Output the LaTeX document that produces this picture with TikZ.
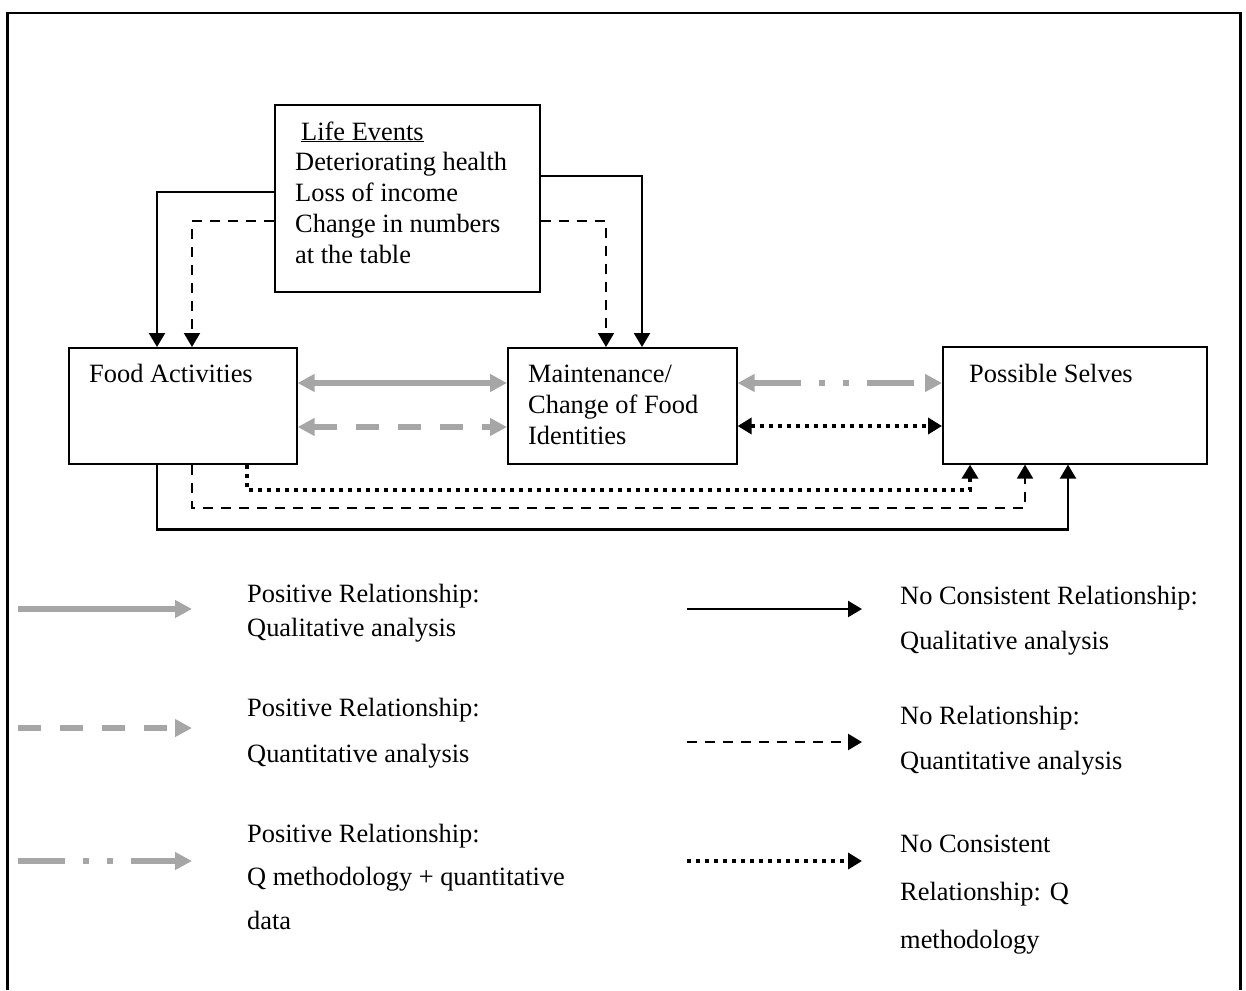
\documentclass[tikz,border=0pt]{standalone}
\usepackage{fontspec}
\setmainfont{Liberation Serif}
\usetikzlibrary{arrows.meta}
\definecolor{lightgrey}{HTML}{A6A6A6}
\begin{document}
\begin{tikzpicture}[x=1pt,y=-1pt,
  box/.style={draw, line width=1.6pt, inner sep=0pt, anchor=north west},
  txt/.style={inner sep=0pt, anchor=base west, font=\fontsize{26.4}{31}\selectfont},
  blk/.style={line width=2.4pt, -{Triangle[length=14pt,width=16pt]}},
  blkdash/.style={line width=2pt, dash pattern=on 10pt off 8pt, -{Triangle[length=14pt,width=16pt]}},
  blkdot/.style={line width=4pt, dash pattern=on 4pt off 5pt, -{Triangle[length=14pt,width=16pt]}},
  gry/.style={draw=lightgrey, line width=6pt, -{Triangle[length=17pt,width=17pt]}, lightgrey},
  grydash/.style={gry, dash pattern=on 23pt off 19pt},
  grydot/.style={gry, dash pattern=on 47pt off 18pt on 6pt off 18pt on 6pt off 18pt},
  both/.style={{Triangle[length=17pt,width=17pt]}-{Triangle[length=17pt,width=17pt]}},
  bothblk/.style={{Triangle[length=14pt,width=16pt]}-{Triangle[length=14pt,width=16pt]}}
]
\useasboundingbox (0,0) rectangle (1246,990);

% outer frame, open at the bottom
\draw[line width=2.5pt] (7.5,990) -- (7.5,13) -- (1240.5,13) -- (1240.5,990);

% boxes
\node[box, minimum width=265pt, minimum height=187pt] (life) at (274,104) {};
\node[box, minimum width=228pt, minimum height=116pt] (food) at (68,347) {};
\node[box, minimum width=229pt, minimum height=116pt] (maint) at (507,347) {};
\node[box, minimum width=264pt, minimum height=117pt] (ps) at (942,346) {};

% box texts
\node[txt] (le0) at (301,140) {\underline{Life Events}};
\node[txt] (le1) at (295,170) {Deteriorating health};
\node[txt] (le2) at (295,201) {Loss of income};
\node[txt] (le3) at (295,232) {Change in numbers};
\node[txt] (le4) at (295,263) {at the table};
\node[txt] (fa) at (89,382) {Food Activities};
\node[txt] (mc1) at (528,382) {Maintenance/};
\node[txt] (mc2) at (528,413) {Change of Food};
\node[txt] (mc3) at (528,444) {Identities};
\node[txt] (psl) at (969,382) {Possible Selves};

% life events to food activities and identities
\draw[blk] ([yshift=-88pt]life.north west) -| ([xshift=89pt]food.north west);
\draw[blkdash] ([yshift=-117pt]life.north west) -| ([xshift=124pt]food.north west);
\draw[blk] ([yshift=-72pt]life.north east) -| ([xshift=135pt]maint.north west);
\draw[blkdash] ([yshift=-117pt]life.north east) -| ([xshift=99pt]maint.north west);

% food activities <-> identities
\draw[gry, both] ([yshift=-36pt]food.north east) -- ([yshift=-36pt]maint.north west);
\draw[grydash, both] ([yshift=-80pt]food.north east) -- ([yshift=-80pt]maint.north west);

% identities <-> possible selves
\draw[grydot, both] ([yshift=-36pt]maint.north east) -- ([yshift=-37pt]ps.north west);
\draw[blkdot, bothblk] ([yshift=-79pt]maint.north east) -- ([yshift=-80pt]ps.north west);

% food activities to possible selves, underneath
\draw[blk] ([xshift=89pt]food.south west) -- ++(0,65) -| ([xshift=126pt]ps.south west);
\draw[blkdash] ([xshift=124pt]food.south west) -- ++(0,43) -| ([xshift=83pt]ps.south west);
\draw[blkdot] ([xshift=179pt]food.south west) -- ++(0,25) -| ([xshift=28pt]ps.south west);

% legend
\coordinate (g1a) at (18,609);  \coordinate (g1b) at (192,609);
\coordinate (g2a) at (18,728);  \coordinate (g2b) at (192,728);
\coordinate (g3a) at (18,861);  \coordinate (g3b) at (192,861);
\coordinate (k1a) at (687,609); \coordinate (k1b) at (862,609);
\coordinate (k2a) at (687,742); \coordinate (k2b) at (862,742);
\coordinate (k3a) at (687,861); \coordinate (k3b) at (862,861);
\draw[gry] (g1a) -- (g1b);
\draw[grydash] (g2a) -- (g2b);
\draw[grydot] (g3a) -- (g3b);
\draw[blk] (k1a) -- (k1b);
\draw[blkdash, line width=2.4pt] (k2a) -- (k2b);
\draw[blkdot] (k3a) -- (k3b);

\node[txt] (ga1) at (247,602) {Positive Relationship:};
\node[txt] (ga2) at (247,636) {Qualitative analysis};
\node[txt] (gb1) at (247,716) {Positive Relationship:};
\node[txt] (gb2) at (247,762) {Quantitative analysis};
\node[txt] (gc1) at (247,842) {Positive Relationship:};
\node[txt] (gc2) at (247,885) {Q methodology + quantitative};
\node[txt] (gc3) at (247,929) {data};
\node[txt] (ka1) at (900,604) {No Consistent Relationship:};
\node[txt] (ka2) at (900,649) {Qualitative analysis};
\node[txt] (kb1) at (900,724) {No Relationship:};
\node[txt] (kb2) at (900,769) {Quantitative analysis};
\node[txt] (kc1) at (900,852) {No Consistent};
\node[txt] (kc2) at (900,900) {Relationship: Q};
\node[txt] (kc3) at (900,948) {methodology};
\end{tikzpicture}
\end{document}
